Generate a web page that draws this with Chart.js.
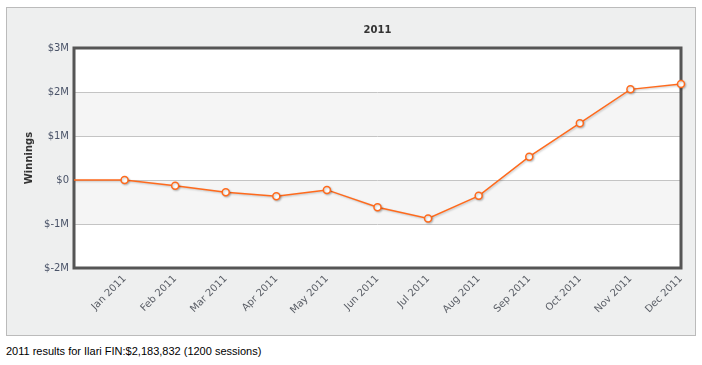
<!DOCTYPE html>
<html>
<head>
<meta charset="utf-8">
<script src="https://cdn.jsdelivr.net/npm/chart.js@4.4.1/dist/chart.umd.min.js"></script>
<style>
  html, body { margin: 0; padding: 0; background: #fff; }
  #box {
    position: absolute; left: 6px; top: 7px;
    width: 688px; height: 327px;
    border: 1px solid #bbbbbb; background: #eeefef;
  }
  #caption {
    position: absolute; left: 6px; top: 345px;
    font-family: "Liberation Sans", Arial, sans-serif; font-size: 11px; color: #000;
  }
</style>
</head>
<body>
<div id="box"><canvas id="winChart" width="688" height="327"></canvas></div>
<div id="caption">2011 results for Ilari FIN:$2,183,832 (1200 sessions)</div>
<script>
// categories (first slot is the starting point, no label)
var months = ['', 'Jan 2011', 'Feb 2011', 'Mar 2011', 'Apr 2011', 'May 2011', 'Jun 2011',
              'Jul 2011', 'Aug 2011', 'Sep 2011', 'Oct 2011', 'Nov 2011', 'Dec 2011']
// cumulative winnings
var winnings = [0, 0, -130000, -280000, -370000, -225000, -620000,
                -875000, -360000, 530000, 1290000, 2060000, 2183832]
var yTicks = [-2000000, -1000000, 0, 1000000, 2000000, 3000000]

// plot background bands + frame
var frame = {
  id: 'frame',
  beforeDatasetsDraw: function (chart) {
    var c = chart.ctx, a = chart.chartArea, y = chart.scales.y
    c.save()
    // bands between $2M-$1M and $0-$-1M
    c.fillStyle = '#f5f5f5'
    ;[[2000000, 1000000], [0, -1000000]].forEach(function (b) {
      var t = y.getPixelForValue(b[0]), bt = y.getPixelForValue(b[1])
      c.fillRect(a.left, t, a.right - a.left, bt - t)
    })
    // grid lines
    c.strokeStyle = '#c4c4c4'
    c.lineWidth = 1
    yTicks.forEach(function (v) {
      var p = Math.round(y.getPixelForValue(v)) + 0.5
      c.beginPath(); c.moveTo(a.left, p); c.lineTo(a.right, p); c.stroke()
    })
    c.strokeStyle = '#555555'
    c.lineWidth = 3
    c.strokeRect(a.left, a.top, a.right - a.left, a.bottom - a.top)
    c.restore()
  },
  beforeDraw: function (chart) {
    var c = chart.ctx, a = chart.chartArea
    c.save()
    c.fillStyle = '#ffffff'
    c.fillRect(a.left, a.top, a.right - a.left, a.bottom - a.top)
    c.restore()
  },
  beforeDatasetDraw: function (chart) {
    var c = chart.ctx
    c.save()
    c.shadowColor = 'rgba(0,0,0,0.22)'
    c.shadowBlur = 2
    c.shadowOffsetX = 1
    c.shadowOffsetY = 1
  },
  afterDatasetDraw: function (chart) {
    chart.ctx.restore()
  }
}

var ctx = document.getElementById('winChart').getContext('2d')
var winChart = new Chart(ctx, {
  type: 'line',
  data: {
    labels: months,
    datasets: [{
      data: winnings,
      borderColor: '#ff6a1c',
      borderWidth: 1.5,
      backgroundColor: '#ffffff',
      pointBackgroundColor: '#ffffff',
      pointBorderColor: '#ff6a1c',
      pointBorderWidth: 1.5,
      pointRadius: function (c) { return c.dataIndex === 0 ? 0 : 3.5 },
      tension: 0,
      fill: false,
      clip: false
    }]
  },
  plugins: [frame],
  options: {
    responsive: false,
    animation: false,
    layout: { padding: { left: 0, right: 14, top: 0, bottom: 0 } },
    plugins: {
      legend: { display: false },
      tooltip: { enabled: false },
      title: {
        display: true,
        text: '2011',
        fullSize: false,
        color: '#333333',
        font: { family: 'DejaVu Sans', size: 10, weight: 'bold' },
        padding: { top: 16, bottom: 12 }
      }
    },
    scales: {
      x: {
        offset: false,
        grid: { display: false, drawTicks: false },
        border: { display: false },
        ticks: {
          autoSkip: false, maxRotation: 45, minRotation: 45, padding: 5,
          color: '#5a5e66',
          font: { family: 'DejaVu Sans', size: 10 }
        },
        afterFit: function (s) { s.height = 67 }
      },
      y: {
        min: -2000000, max: 3000000,
        afterBuildTicks: function (s) { s.ticks = yTicks.map(function (v) { return { value: v } }) },
        grid: { display: false, drawTicks: false },
        border: { display: false },
        ticks: {
          padding: 5,
          color: '#4a5368',
          font: { family: 'DejaVu Sans', size: 10 },
          callback: function (v) { return v === 0 ? '$0' : '$' + (v / 1000000) + 'M' }
        },
        title: {
          display: true, text: 'Winnings', color: '#333333',
          font: { family: 'DejaVu Sans', size: 10, weight: 'bold' },
          padding: { top: 16, bottom: 0 }
        },
        afterFit: function (s) { s.width = 67 }
      }
    }
  }
})
</script>
</body>
</html>
